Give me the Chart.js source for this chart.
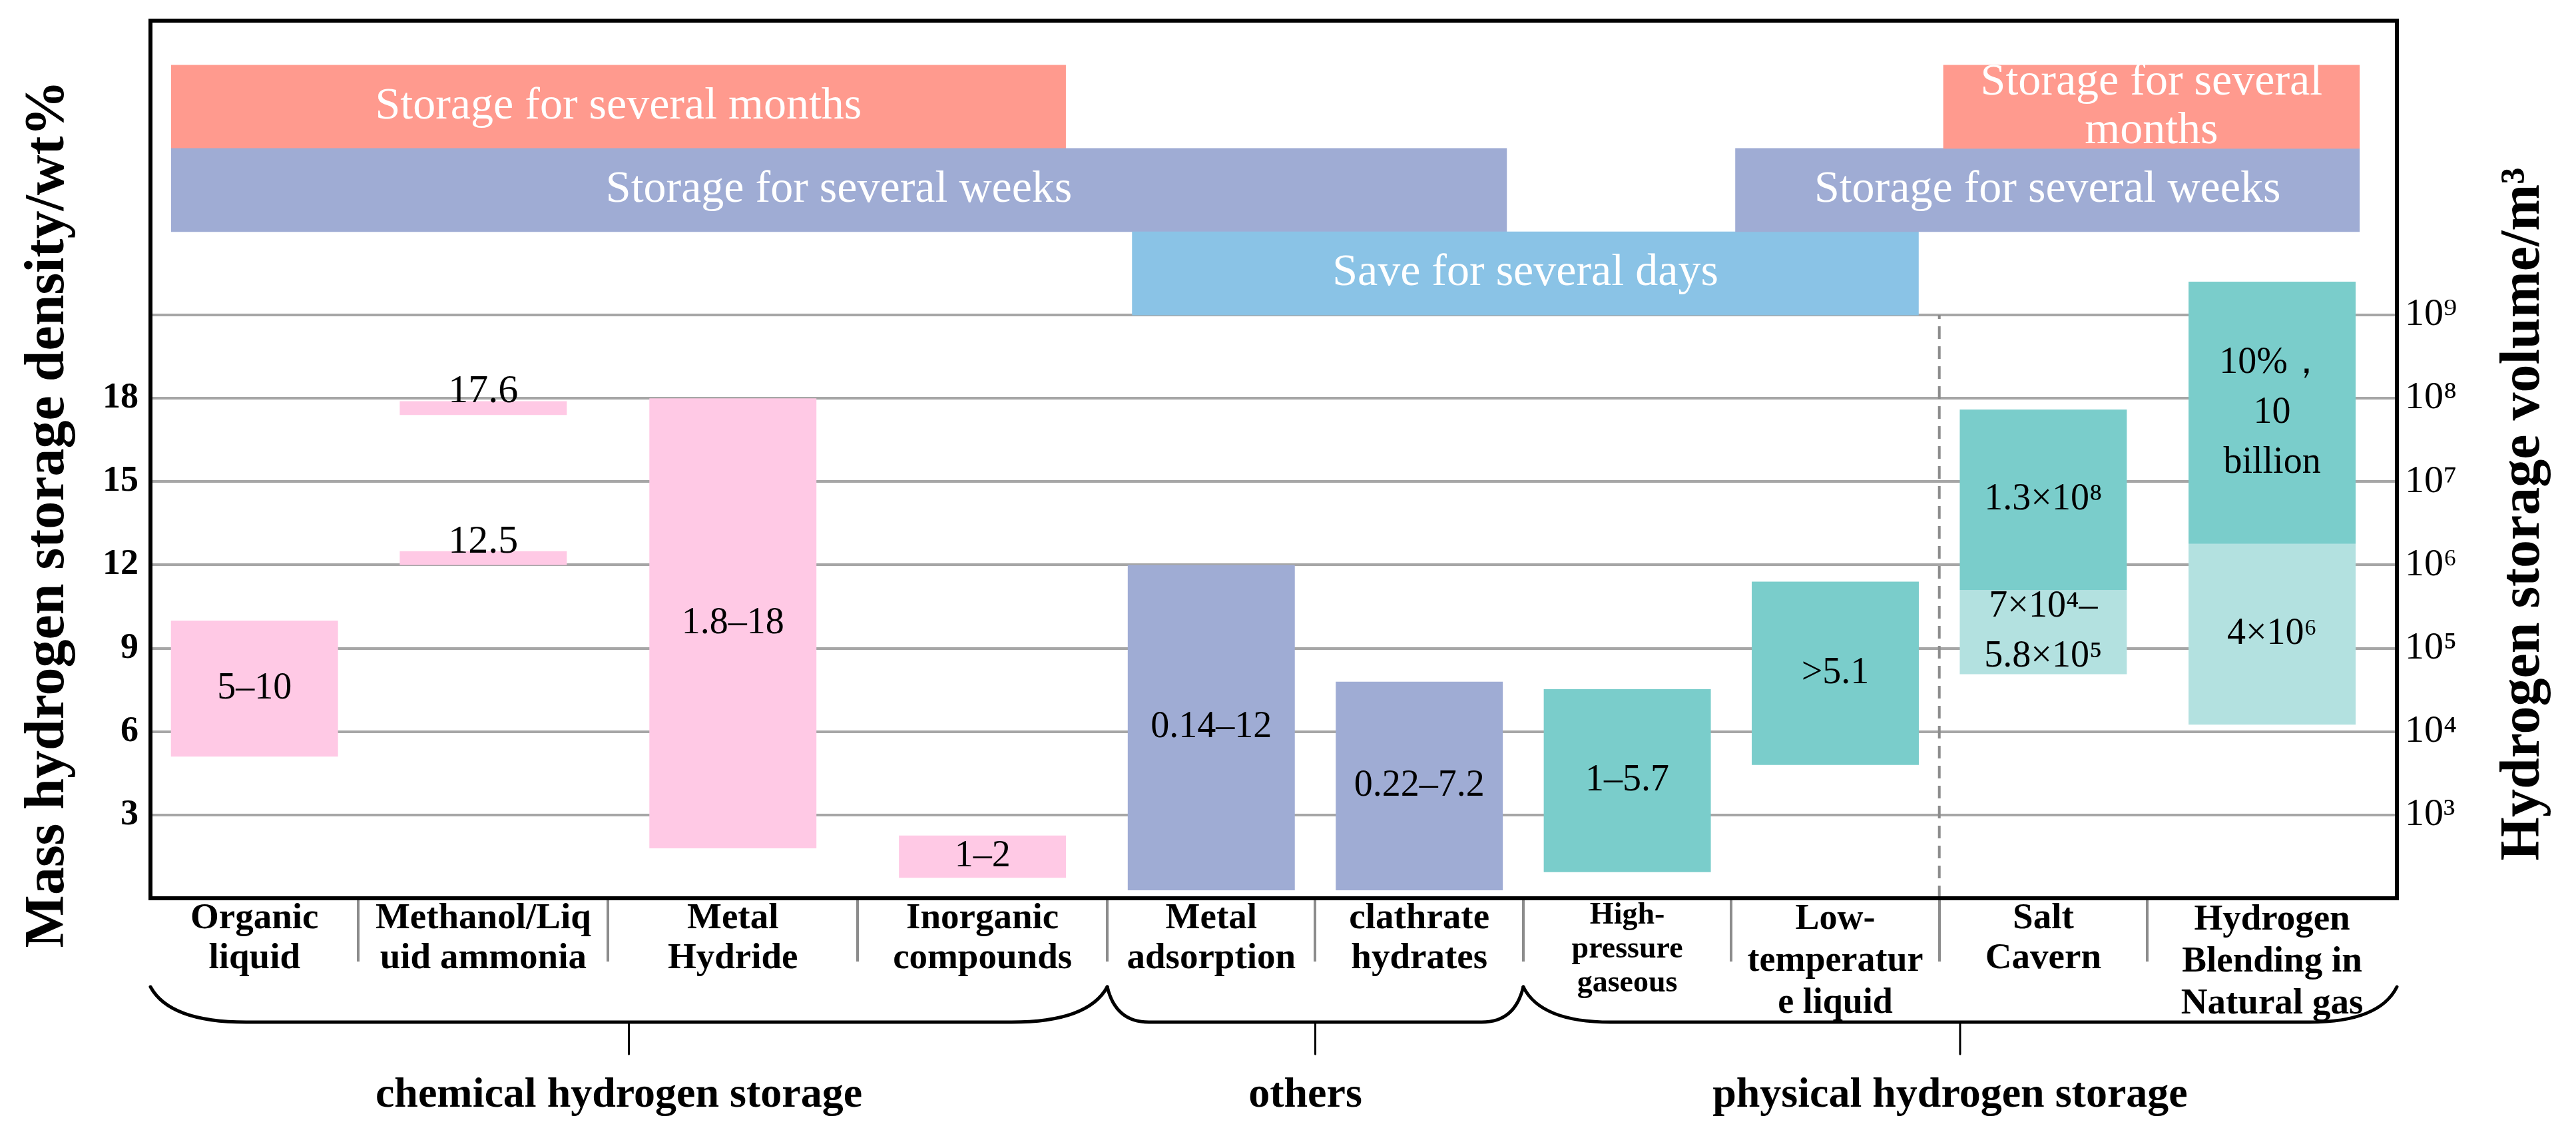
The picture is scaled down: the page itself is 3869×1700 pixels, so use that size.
<!DOCTYPE html>
<html lang="en">
<head>
    <meta charset="UTF-8">
    <title>Hydrogen storage density and volume</title>
    <script src="https://cdn.jsdelivr.net/npm/chart.js"></script>
    <style>
        body { margin: 0; background: #fff; }
        canvas { display: block; }
    </style>
</head>
<body>
    <canvas id="h2Chart" width="3869" height="1700"></canvas>

    <script>
        // categories along the x axis (multi-line labels as in the figure)
        const categories = [
            ['Organic', 'liquid'],
            ['Methanol/Liq', 'uid ammonia'],
            ['Metal', 'Hydride'],
            ['Inorganic', 'compounds'],
            ['Metal', 'adsorption'],
            ['clathrate', 'hydrates'],
            ['High-', 'pressure', 'gaseous'],
            ['Low-', 'temperatur', 'e liquid'],
            ['Salt', 'Cavern'],
            ['Hydrogen', 'Blending in', 'Natural gas']
        ];
        const groupNames = ['chemical hydrogen storage', 'others', 'physical hydrogen storage'];
        const groupFirst = [0, 4, 6];
        const groupLast = [3, 5, 9];

        // chemical storage (pink), density wt%
        const chemCat = [0, 1, 1, 2, 3];
        const chemLow = [5.1, 17.4, 12.0, 1.8, 0.74];
        const chemHigh = [10, 17.9, 12.5, 18, 2.26];
        const chemText = [['5–10'], ['17.6'], ['12.5'], ['1.8–18'], ['1–2']];

        // others (lavender)
        const otherCat = [4, 5];
        const otherLow = [0.29, 0.29];
        const otherHigh = [12, 7.8];
        const otherText = [['0.14–12'], ['0.22–7.2']];

        // physical storage (teal)
        const physCat = [6, 7, 8, 9];
        const physLow = [0.94, 4.8, 11.1, 12.76];
        const physHigh = [7.53, 11.4, 17.6, 22.2];
        const physText = [['1–5.7'], ['>5.1'], ['1.3×10⁸'], ['10%，', '10', 'billion']];

        // physical storage, lower part (light teal)
        const physLightCat = [8, 9];
        const physLightLow = [8.07, 6.25];
        const physLightHigh = [11.1, 12.76];
        const physLightText = [['7×10⁴–', '5.8×10⁵'], ['4×10⁶']];

        // storage duration bands above the plot
        const bandKind = ['months', 'weeks', 'days', 'weeks', 'months'];
        const bandFrom = [0.5, 0.5, 23.6, 38.1, 43.1];
        const bandTo = [22.0, 32.6, 42.5, 53.1, 53.1];
        const bandText = [
            ['Storage for several months'],
            ['Storage for several weeks'],
            ['Save for several days'],
            ['Storage for several weeks'],
            ['Storage for several', 'months']
        ];
        const bandBottom = { days: 21, weeks: 24, months: 27 };

        // axis ticks
        const densityTicks = [3, 6, 9, 12, 15, 18];
        const gridTicks = [0, 3, 6, 9, 12, 15, 18, 21];
        const volumeAt = [3, 6, 9, 12, 15, 18, 21];
        const volumeLabels = ['10³', '10⁴', '10⁵', '10⁶', '10⁷', '10⁸', '10⁹'];
        const dashedAt = 43;

        // ---- layout ----
        const slotWidths = [5, 6, 6, 6, 5, 5, 5, 5, 5, 6];
        const barUnits = 4.016;
        const yMax = 31.6;
        const serif = '"Liberation Serif", "Times New Roman", serif';

        const bounds = [0];
        slotWidths.forEach(w => bounds.push(bounds[bounds.length - 1] + w));
        const xEnd = bounds[bounds.length - 1];
        const centers = slotWidths.map((w, i) => bounds[i] + w / 2);
        const xTicks = bounds.concat(centers).sort((a, b) => a - b);
        let minGap = Infinity;
        for (let i = 1; i < xTicks.length; i++) minGap = Math.min(minGap, xTicks[i] - xTicks[i - 1]);

        const colors = {
            pink: '#FFC9E5', lavender: '#9FACD4', teal: '#7ACDCB', lightTeal: '#B3E1E0',
            months: '#FF9A8E', weeks: '#9FACD4', days: '#8AC3E6',
            grid: '#A6A6A6', divider: '#8C8C8C'
        };
        const clear = 'rgba(0,0,0,0)';

        function rangeData(cats, low, high) {
            return cats.map((c, i) => ({ x: centers[c], y: [low[i], high[i]] }));
        }

        const catFont = [
            { size: 55, lineHeight: 60 }, { size: 55, lineHeight: 60 }, { size: 55, lineHeight: 60 },
            { size: 55, lineHeight: 60 }, { size: 55, lineHeight: 60 }, { size: 55, lineHeight: 60 },
            { size: 46, lineHeight: 51 }, { size: 54, lineHeight: 63 }, { size: 55, lineHeight: 60 },
            { size: 55, lineHeight: 63 }
        ];
        function centerIndex(v) {
            return centers.findIndex(c => Math.abs(c - v) < 1e-6);
        }
        function tickValue(c) {
            return c && c.tick ? c.tick.value : null;
        }
        // fixed axis sizes, no extra padding from labels
        function fixSize(prop, size) {
            return s => {
                s[prop] = size;
                s.paddingTop = s.paddingBottom = s.paddingLeft = s.paddingRight = 0;
            };
        }

        const barCommon = {
            type: 'bar', xAxisID: 'x', yAxisID: 'y', grouped: false,
            categoryPercentage: 1, barPercentage: barUnits / minGap, borderWidth: 0
        };

        const datasets = [
            Object.assign({ label: 'chemical', data: rangeData(chemCat, chemLow, chemHigh),
                backgroundColor: colors.pink, texts: chemText }, barCommon),
            Object.assign({ label: 'others', data: rangeData(otherCat, otherLow, otherHigh),
                backgroundColor: colors.lavender, texts: otherText }, barCommon),
            Object.assign({ label: 'physical', data: rangeData(physCat, physLow, physHigh),
                backgroundColor: colors.teal, texts: physText }, barCommon),
            Object.assign({ label: 'physical low', data: rangeData(physLightCat, physLightLow, physLightHigh),
                backgroundColor: colors.lightTeal, texts: physLightText }, barCommon),
            {
                type: 'bar', label: 'bands', indexAxis: 'y', xAxisID: 'x2', yAxisID: 'y2',
                grouped: false, categoryPercentage: 1, barPercentage: 1, borderWidth: 0,
                data: bandKind.map((k, i) => ({ y: bandBottom[k] + 1.5, x: [bandFrom[i], bandTo[i]] })),
                backgroundColor: bandKind.map(k => colors[k]),
                texts: bandText, textColor: '#fff', textSize: 68, textLine: 73
            },
            {
                type: 'line', label: 'divider', xAxisID: 'x', yAxisID: 'y',
                data: [{ x: dashedAt, y: 0 }, { x: dashedAt, y: 21 }],
                borderColor: colors.divider, borderWidth: 4, borderDash: [19, 11],
                pointRadius: 0, fill: false
            }
        ];

        // labels inside bars, braces, frame and axis titles
        const decorations = {
            id: 'decorations',
            afterDatasetsDraw(chart) {
                const ctx = chart.ctx;
                chart.data.datasets.forEach((ds, di) => {
                    if (!ds.texts) return;
                    const meta = chart.getDatasetMeta(di);
                    const size = ds.textSize || 56;
                    const lh = ds.textLine || 75;
                    ctx.save();
                    ctx.fillStyle = ds.textColor || '#000';
                    ctx.textAlign = 'center';
                    meta.data.forEach((el, i) => {
                        const lines = ds.texts[i];
                        const p = el.getProps(['x', 'y', 'base'], true);
                        ctx.font = size + 'px ' + serif;
                        if (ds.indexAxis === 'y') {
                            const cx = (p.x + p.base) / 2;
                            ctx.textBaseline = 'middle';
                            lines.forEach((t, j) => ctx.fillText(t, cx, p.y + (j - (lines.length - 1) / 2) * lh));
                        } else if (Math.abs(p.base - p.y) < size * 0.8) {
                            // thin bar: value sits on top of it
                            ctx.textBaseline = 'alphabetic';
                            ctx.font = '60px ' + serif;
                            ctx.fillText(lines[0], p.x, Math.min(p.y, p.base) + 2);
                        } else {
                            const cy = (p.y + p.base) / 2;
                            ctx.textBaseline = 'middle';
                            lines.forEach((t, j) => ctx.fillText(t, p.x, cy + (j - (lines.length - 1) / 2) * lh));
                        }
                    });
                    ctx.restore();
                });
            },
            afterDraw(chart) {
                const ctx = chart.ctx;
                const a = chart.chartArea;
                const xs = chart.scales.x;
                ctx.save();
                // plot frame
                ctx.strokeStyle = '#000';
                ctx.lineWidth = 6;
                ctx.strokeRect(a.left, a.top, a.right - a.left, a.bottom - a.top);

                // group braces
                const yTop = a.bottom + 133, yLine = a.bottom + 186, yTick = a.bottom + 234;
                ctx.lineCap = 'round';
                groupNames.forEach((name, g) => {
                    const xa = xs.getPixelForValue(bounds[groupFirst[g]]);
                    const xb = xs.getPixelForValue(bounds[groupLast[g] + 1]);
                    const w = (xb - xa) * 0.1;
                    ctx.lineWidth = 5;
                    ctx.beginPath();
                    ctx.moveTo(xa, yTop);
                    ctx.quadraticCurveTo(xa + w * 0.2, yLine, xa + w, yLine);
                    ctx.lineTo(xb - w, yLine);
                    ctx.quadraticCurveTo(xb - w * 0.2, yLine, xb, yTop);
                    ctx.stroke();
                    const xm = (xa + xb) / 2;
                    ctx.lineWidth = 3;
                    ctx.beginPath();
                    ctx.moveTo(xm, yLine);
                    ctx.lineTo(xm, yTick);
                    ctx.stroke();
                    ctx.fillStyle = '#000';
                    ctx.font = 'bold 64px ' + serif;
                    ctx.textAlign = 'center';
                    ctx.textBaseline = 'alphabetic';
                    ctx.fillText(name, xm - 15, a.bottom + 313);
                });

                // axis titles, both reading bottom to top
                ctx.font = 'bold 84px ' + serif;
                ctx.textAlign = 'center';
                ctx.textBaseline = 'alphabetic';
                const midY = (a.top + a.bottom) / 2 + 82;
                ctx.save();
                ctx.translate(a.left - 131, midY);
                ctx.rotate(-Math.PI / 2);
                ctx.fillText('Mass hydrogen storage density/wt%', 0, 0);
                ctx.restore();
                ctx.save();
                ctx.translate(a.right + 213, midY);
                ctx.rotate(-Math.PI / 2);
                ctx.fillText('Hydrogen storage volume/m³', 0, 0);
                ctx.restore();
                ctx.restore();
            }
        };

        Chart.defaults.font.family = serif;
        Chart.defaults.color = '#000';

        const ctxH2 = document.getElementById('h2Chart').getContext('2d');
        const h2Chart = new Chart(ctxH2, {
            data: { datasets: datasets },
            options: {
                responsive: false,
                animation: false,
                devicePixelRatio: 1,
                layout: { padding: { top: 31, left: 0, right: 0, bottom: 0 } },
                plugins: { legend: { display: false }, tooltip: { enabled: false } },
                scales: {
                    x: {
                        type: 'linear', position: 'bottom', min: 0, max: xEnd, offset: false,
                        afterBuildTicks: s => { s.ticks = xTicks.map(v => ({ value: v })); },
                        afterFit: fixSize('height', 351),
                        border: { display: false },
                        grid: {
                            offset: false, drawOnChartArea: false, drawTicks: true, tickLength: 95, lineWidth: 4,
                            color: c => {
                                const v = tickValue(c);
                                return (v !== null && v > 0 && v < xEnd && bounds.indexOf(v) >= 0) ? colors.divider : clear;
                            }
                        },
                        ticks: {
                            autoSkip: false, maxRotation: 0, minRotation: 0, padding: -94,
                            font: c => {
                                const v = tickValue(c);
                                const k = v !== null ? centerIndex(v) : -1;
                                const f = k >= 0 ? catFont[k] : catFont[0];
                                return { family: serif, weight: 'bold', size: f.size, lineHeight: f.lineHeight + 'px' };
                            },
                            callback: v => { const k = centerIndex(v); return k >= 0 ? categories[k] : ''; }
                        }
                    },
                    y: {
                        type: 'linear', position: 'left', min: 0, max: yMax, offset: false,
                        afterBuildTicks: s => { s.ticks = gridTicks.map(v => ({ value: v })); },
                        afterFit: fixSize('width', 226),
                        border: { display: false },
                        grid: {
                            drawTicks: false, lineWidth: 4,
                            color: c => { const v = tickValue(c); return (v === null || v === 0) ? clear : colors.grid; }
                        },
                        ticks: {
                            padding: 18,
                            font: { family: serif, weight: 'bold', size: 54 },
                            callback: v => densityTicks.indexOf(v) >= 0 ? String(v) : ''
                        }
                    },
                    yRight: {
                        type: 'linear', axis: 'y', position: 'right', min: 0, max: yMax, offset: false,
                        afterBuildTicks: s => { s.ticks = volumeAt.map(v => ({ value: v })); },
                        afterFit: fixSize('width', 269),
                        border: { display: false },
                        grid: { display: false, drawTicks: false },
                        ticks: {
                            padding: 12,
                            font: { family: serif, size: 58 },
                            callback: v => { const k = volumeAt.indexOf(v); return k >= 0 ? volumeLabels[k] : ''; }
                        }
                    },
                    x2: {
                        type: 'linear', axis: 'x', display: false, min: 0, max: xEnd, offset: false,
                        afterFit: fixSize('height', 0)
                    },
                    y2: {
                        type: 'linear', axis: 'y', display: false, min: 0, max: yMax, offset: false,
                        afterBuildTicks: s => { s.ticks = []; },
                        afterFit: fixSize('width', 0)
                    }
                }
            },
            plugins: [decorations]
        });
    </script>
</body>
</html>
